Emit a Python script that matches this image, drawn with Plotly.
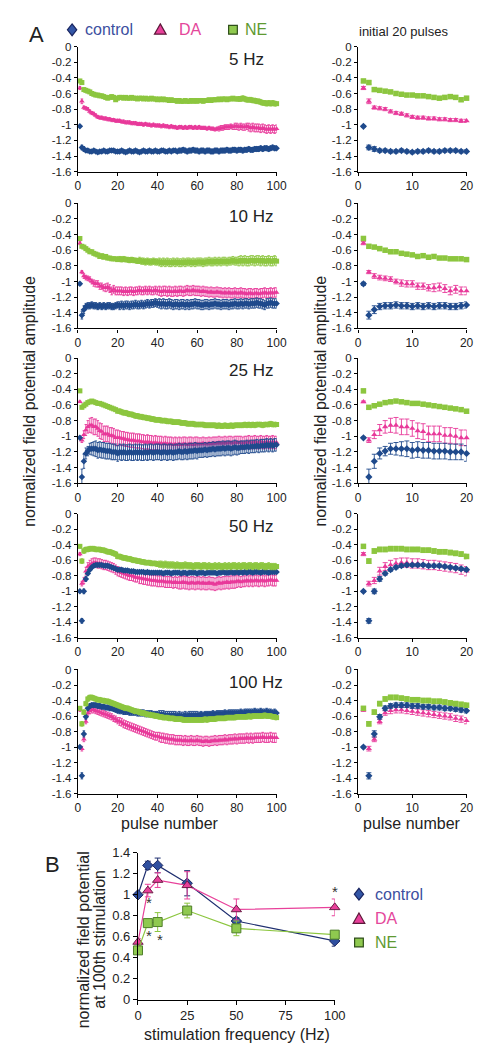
import plotly.graph_objects as go

# ---------------- DATA ----------------
pulse_number = list(range(1, 101))
freq_labels = ["5 Hz", "10 Hz", "25 Hz", "50 Hz", "100 Hz"]

ctrl_5 = [-1.02,-1.29,-1.31,-1.33,-1.33,-1.34,-1.34,-1.33,-1.34,-1.35,-1.34,-1.34,-1.33,-1.34,-1.34,-1.33,-1.33,-1.33,-1.34,-1.34,
          -1.34,-1.33,-1.34,-1.35,-1.34,-1.33,-1.34,-1.34,-1.33,-1.34,-1.35,-1.34,-1.33,-1.34,-1.34,-1.33,-1.34,-1.34,-1.33,-1.34,
          -1.34,-1.33,-1.33,-1.34,-1.34,-1.33,-1.34,-1.33,-1.33,-1.34,-1.33,-1.33,-1.32,-1.33,-1.34,-1.33,-1.33,-1.32,-1.33,-1.33,
          -1.34,-1.33,-1.33,-1.34,-1.33,-1.33,-1.34,-1.34,-1.33,-1.33,-1.34,-1.33,-1.33,-1.33,-1.32,-1.33,-1.33,-1.32,-1.32,-1.33,
          -1.32,-1.32,-1.33,-1.32,-1.32,-1.31,-1.32,-1.32,-1.31,-1.31,-1.31,-1.30,-1.31,-1.30,-1.30,-1.31,-1.30,-1.29,-1.30,-1.30]
err_ctrl_5 = [0.01,0.03,0.03,0.02,0.02,0.02,0.02,0.02,0.02,0.02,0.02,0.02,0.02,0.02,0.02,0.02,0.02,0.02,0.02,0.02,
              0.02,0.02,0.02,0.02,0.02,0.02,0.02,0.02,0.02,0.02,0.02,0.02,0.02,0.02,0.02,0.02,0.02,0.02,0.02,0.02,
              0.02,0.02,0.02,0.02,0.02,0.02,0.02,0.02,0.02,0.02,0.03,0.03,0.03,0.03,0.03,0.03,0.03,0.03,0.03,0.03,
              0.03,0.03,0.03,0.03,0.03,0.03,0.03,0.03,0.03,0.03,0.03,0.03,0.03,0.03,0.03,0.03,0.03,0.03,0.03,0.03,
              0.03,0.03,0.03,0.03,0.03,0.03,0.03,0.03,0.03,0.03,0.03,0.03,0.03,0.03,0.03,0.03,0.03,0.03,0.03,0.03]
da_5 = [-0.53,-0.70,-0.78,-0.79,-0.80,-0.83,-0.85,-0.86,-0.88,-0.90,-0.91,-0.91,-0.92,-0.92,-0.93,-0.93,-0.94,-0.94,-0.95,-0.95,
        -0.95,-0.96,-0.96,-0.97,-0.97,-0.97,-0.98,-0.98,-0.98,-0.99,-0.99,-0.99,-1.00,-0.99,-1.00,-1.00,-1.01,-1.00,-1.01,-1.01,
        -1.01,-1.02,-1.01,-1.02,-1.02,-1.03,-1.02,-1.03,-1.03,-1.04,-1.03,-1.03,-1.04,-1.03,-1.04,-1.03,-1.03,-1.04,-1.03,-1.04,
        -1.03,-1.04,-1.04,-1.04,-1.05,-1.04,-1.05,-1.05,-1.06,-1.05,-1.05,-1.04,-1.04,-1.03,-1.03,-1.03,-1.02,-1.03,-1.02,-1.02,
        -1.03,-1.02,-1.03,-1.03,-1.02,-1.03,-1.04,-1.03,-1.04,-1.04,-1.04,-1.05,-1.04,-1.05,-1.06,-1.05,-1.06,-1.05,-1.06,-1.05]
err_da_5 = [0.02,0.03,0.02,0.02,0.02,0.02,0.02,0.02,0.02,0.02,0.02,0.02,0.02,0.02,0.02,0.02,0.02,0.02,0.02,0.02,
            0.02,0.02,0.02,0.02,0.02,0.02,0.02,0.02,0.02,0.02,0.02,0.02,0.02,0.02,0.02,0.02,0.02,0.02,0.02,0.02,
            0.02,0.02,0.02,0.02,0.02,0.02,0.02,0.02,0.02,0.02,0.02,0.02,0.02,0.02,0.02,0.02,0.02,0.02,0.02,0.02,
            0.02,0.02,0.02,0.02,0.02,0.02,0.02,0.02,0.02,0.02,0.03,0.03,0.03,0.03,0.03,0.03,0.03,0.03,0.04,0.04,
            0.04,0.04,0.04,0.04,0.04,0.05,0.05,0.05,0.05,0.05,0.05,0.05,0.05,0.05,0.05,0.05,0.05,0.05,0.05,0.05]
ne_5 = [-0.44,-0.46,-0.55,-0.56,-0.57,-0.58,-0.60,-0.61,-0.62,-0.62,-0.63,-0.63,-0.64,-0.65,-0.66,-0.65,-0.64,-0.65,-0.68,-0.66,
        -0.65,-0.65,-0.66,-0.65,-0.66,-0.66,-0.65,-0.66,-0.66,-0.67,-0.66,-0.66,-0.67,-0.66,-0.67,-0.67,-0.66,-0.67,-0.67,-0.68,
        -0.67,-0.68,-0.67,-0.68,-0.68,-0.69,-0.68,-0.69,-0.69,-0.70,-0.69,-0.70,-0.70,-0.69,-0.70,-0.70,-0.69,-0.70,-0.69,-0.70,
        -0.69,-0.69,-0.70,-0.69,-0.69,-0.68,-0.69,-0.68,-0.68,-0.68,-0.67,-0.68,-0.67,-0.67,-0.68,-0.67,-0.67,-0.66,-0.67,-0.67,
        -0.67,-0.67,-0.66,-0.67,-0.68,-0.68,-0.68,-0.69,-0.69,-0.70,-0.70,-0.71,-0.72,-0.72,-0.73,-0.72,-0.73,-0.72,-0.73,-0.73]
err_ne_5 = [0.02,0.02,0.02,0.02,0.02,0.02,0.02,0.02,0.02,0.02,0.02,0.02,0.02,0.02,0.02,0.02,0.02,0.02,0.02,0.02,
            0.02,0.02,0.02,0.02,0.02,0.02,0.02,0.02,0.02,0.02,0.02,0.02,0.02,0.02,0.02,0.02,0.02,0.02,0.02,0.02,
            0.02,0.02,0.02,0.02,0.02,0.02,0.02,0.02,0.02,0.02,0.02,0.02,0.02,0.02,0.02,0.02,0.02,0.02,0.02,0.02,
            0.02,0.02,0.02,0.02,0.02,0.02,0.02,0.02,0.02,0.02,0.02,0.02,0.02,0.02,0.02,0.02,0.02,0.02,0.02,0.02,
            0.03,0.03,0.03,0.03,0.03,0.03,0.03,0.03,0.03,0.03,0.03,0.03,0.03,0.03,0.03,0.03,0.03,0.03,0.03,0.03]

ctrl_10 = [-1.03,-1.43,-1.36,-1.32,-1.31,-1.31,-1.30,-1.31,-1.31,-1.32,-1.31,-1.32,-1.31,-1.32,-1.31,-1.31,-1.32,-1.32,-1.31,-1.30,
           -1.31,-1.30,-1.31,-1.30,-1.30,-1.31,-1.30,-1.30,-1.29,-1.30,-1.30,-1.29,-1.30,-1.29,-1.28,-1.29,-1.28,-1.28,-1.27,-1.28,
           -1.28,-1.29,-1.28,-1.29,-1.29,-1.28,-1.29,-1.30,-1.29,-1.29,-1.30,-1.29,-1.29,-1.30,-1.29,-1.30,-1.29,-1.29,-1.28,-1.29,
           -1.29,-1.30,-1.30,-1.29,-1.29,-1.30,-1.29,-1.29,-1.28,-1.29,-1.29,-1.30,-1.29,-1.29,-1.29,-1.30,-1.29,-1.29,-1.28,-1.29,
           -1.29,-1.28,-1.29,-1.28,-1.28,-1.29,-1.28,-1.28,-1.28,-1.27,-1.28,-1.28,-1.29,-1.30,-1.28,-1.28,-1.27,-1.28,-1.28,-1.28]
err_ctrl_10 = [0.02,0.05,0.05,0.04,0.04,0.04,0.04,0.04,0.04,0.04,0.04,0.04,0.04,0.04,0.04,0.04,0.04,0.04,0.04,0.04,
               0.05,0.05,0.05,0.05,0.05,0.05,0.05,0.05,0.05,0.05,0.05,0.05,0.05,0.05,0.05,0.05,0.05,0.05,0.05,0.05,
               0.06,0.06,0.06,0.06,0.06,0.06,0.06,0.06,0.06,0.06,0.06,0.06,0.06,0.06,0.06,0.06,0.06,0.06,0.06,0.06,
               0.06,0.06,0.06,0.06,0.06,0.06,0.06,0.06,0.06,0.06,0.06,0.06,0.06,0.06,0.06,0.06,0.06,0.06,0.06,0.06,
               0.06,0.06,0.06,0.06,0.06,0.06,0.06,0.06,0.06,0.06,0.06,0.06,0.06,0.06,0.06,0.06,0.06,0.06,0.06,0.06]
da_10 = [-0.51,-0.88,-0.93,-0.95,-0.96,-0.97,-1.00,-1.02,-1.03,-1.03,-1.06,-1.06,-1.08,-1.08,-1.07,-1.09,-1.12,-1.10,-1.12,-1.12,
         -1.12,-1.12,-1.13,-1.12,-1.13,-1.12,-1.12,-1.13,-1.12,-1.12,-1.11,-1.12,-1.12,-1.11,-1.12,-1.11,-1.12,-1.12,-1.11,-1.12,
         -1.12,-1.13,-1.12,-1.12,-1.13,-1.12,-1.13,-1.13,-1.12,-1.13,-1.12,-1.12,-1.13,-1.12,-1.11,-1.12,-1.12,-1.11,-1.12,-1.12,
         -1.12,-1.13,-1.12,-1.13,-1.13,-1.14,-1.13,-1.14,-1.14,-1.13,-1.14,-1.14,-1.15,-1.14,-1.15,-1.14,-1.15,-1.15,-1.14,-1.15,
         -1.15,-1.14,-1.15,-1.15,-1.16,-1.15,-1.15,-1.16,-1.15,-1.15,-1.16,-1.15,-1.15,-1.14,-1.15,-1.15,-1.14,-1.15,-1.14,-1.14]
err_da_10 = [0.02,0.02,0.03,0.03,0.03,0.03,0.03,0.04,0.04,0.04,0.04,0.04,0.04,0.05,0.05,0.05,0.05,0.05,0.05,0.05,
             0.05,0.05,0.05,0.05,0.05,0.05,0.05,0.05,0.05,0.05,0.05,0.05,0.05,0.05,0.05,0.05,0.05,0.05,0.05,0.05,
             0.06,0.06,0.06,0.06,0.06,0.06,0.06,0.06,0.06,0.06,0.06,0.06,0.06,0.06,0.06,0.06,0.06,0.06,0.06,0.06,
             0.06,0.06,0.06,0.06,0.06,0.06,0.06,0.06,0.06,0.06,0.06,0.06,0.06,0.06,0.06,0.06,0.06,0.06,0.06,0.06,
             0.06,0.06,0.06,0.06,0.06,0.06,0.06,0.06,0.06,0.06,0.06,0.06,0.06,0.06,0.06,0.06,0.06,0.06,0.06,0.06]
ne_10 = [-0.45,-0.55,-0.56,-0.58,-0.60,-0.62,-0.62,-0.64,-0.65,-0.66,-0.68,-0.67,-0.69,-0.68,-0.70,-0.70,-0.71,-0.71,-0.71,-0.72,
         -0.71,-0.72,-0.71,-0.72,-0.72,-0.73,-0.72,-0.73,-0.73,-0.74,-0.73,-0.74,-0.74,-0.75,-0.74,-0.75,-0.75,-0.74,-0.75,-0.75,
         -0.75,-0.76,-0.75,-0.76,-0.75,-0.76,-0.76,-0.75,-0.76,-0.75,-0.76,-0.76,-0.75,-0.76,-0.75,-0.75,-0.76,-0.75,-0.76,-0.75,
         -0.75,-0.75,-0.76,-0.75,-0.75,-0.74,-0.75,-0.75,-0.74,-0.75,-0.74,-0.75,-0.74,-0.74,-0.75,-0.74,-0.74,-0.73,-0.74,-0.74,
         -0.74,-0.73,-0.74,-0.73,-0.74,-0.74,-0.73,-0.73,-0.74,-0.73,-0.73,-0.74,-0.73,-0.74,-0.74,-0.73,-0.74,-0.74,-0.73,-0.74]
err_ne_10 = [0.02,0.02,0.02,0.02,0.02,0.02,0.02,0.02,0.02,0.02,0.02,0.02,0.02,0.02,0.02,0.02,0.02,0.02,0.02,0.02,
             0.03,0.03,0.03,0.03,0.03,0.03,0.03,0.03,0.03,0.03,0.04,0.04,0.04,0.04,0.04,0.04,0.04,0.04,0.04,0.04,
             0.05,0.05,0.05,0.05,0.05,0.05,0.05,0.05,0.05,0.05,0.05,0.05,0.05,0.05,0.05,0.05,0.05,0.05,0.05,0.05,
             0.05,0.05,0.05,0.05,0.05,0.05,0.05,0.05,0.05,0.05,0.05,0.05,0.05,0.05,0.05,0.05,0.05,0.05,0.05,0.05,
             0.06,0.06,0.06,0.06,0.06,0.06,0.06,0.06,0.06,0.06,0.06,0.06,0.06,0.06,0.06,0.06,0.06,0.06,0.06,0.06]

ctrl_25 = [-1.02,-1.52,-1.32,-1.22,-1.19,-1.16,-1.16,-1.16,-1.16,-1.18,-1.17,-1.18,-1.18,-1.19,-1.19,-1.19,-1.20,-1.20,-1.20,-1.22,
           -1.20,-1.21,-1.20,-1.21,-1.21,-1.20,-1.21,-1.21,-1.20,-1.21,-1.20,-1.21,-1.21,-1.20,-1.21,-1.20,-1.20,-1.21,-1.20,-1.20,
           -1.20,-1.21,-1.20,-1.20,-1.21,-1.20,-1.20,-1.21,-1.20,-1.20,-1.19,-1.20,-1.20,-1.19,-1.20,-1.19,-1.19,-1.19,-1.18,-1.19,
           -1.18,-1.18,-1.18,-1.17,-1.18,-1.17,-1.17,-1.16,-1.17,-1.16,-1.16,-1.16,-1.15,-1.16,-1.15,-1.15,-1.16,-1.15,-1.14,-1.15,
           -1.15,-1.14,-1.14,-1.14,-1.13,-1.14,-1.13,-1.13,-1.13,-1.12,-1.13,-1.12,-1.12,-1.12,-1.11,-1.12,-1.11,-1.12,-1.11,-1.11]
err_ctrl_25 = [0.01,0.10,0.09,0.07,0.06,0.07,0.08,0.09,0.10,0.10,0.10,0.10,0.10,0.10,0.10,0.10,0.10,0.10,0.10,0.10,
               0.10,0.10,0.10,0.10,0.10,0.10,0.10,0.10,0.10,0.10,0.10,0.10,0.10,0.10,0.10,0.10,0.10,0.10,0.10,0.10,
               0.10,0.10,0.10,0.10,0.10,0.10,0.10,0.10,0.10,0.10,0.10,0.10,0.10,0.10,0.10,0.10,0.10,0.10,0.10,0.10,
               0.09,0.09,0.09,0.09,0.09,0.09,0.09,0.09,0.09,0.09,0.09,0.09,0.09,0.09,0.09,0.09,0.09,0.09,0.09,0.09,
               0.08,0.08,0.08,0.08,0.08,0.08,0.08,0.08,0.08,0.08,0.08,0.08,0.08,0.08,0.08,0.08,0.08,0.08,0.08,0.08]
da_25 = [-0.56,-1.05,-0.98,-0.92,-0.88,-0.86,-0.86,-0.88,-0.88,-0.90,-0.93,-0.94,-0.97,-0.97,-0.97,-0.99,-0.99,-1.00,-1.02,-1.02,
         -1.02,-1.03,-1.03,-1.04,-1.04,-1.05,-1.05,-1.05,-1.06,-1.06,-1.06,-1.07,-1.07,-1.08,-1.07,-1.08,-1.08,-1.09,-1.08,-1.09,
         -1.09,-1.09,-1.10,-1.09,-1.10,-1.10,-1.10,-1.11,-1.10,-1.11,-1.10,-1.11,-1.10,-1.10,-1.11,-1.10,-1.10,-1.11,-1.10,-1.10,
         -1.10,-1.10,-1.09,-1.10,-1.10,-1.09,-1.10,-1.09,-1.09,-1.09,-1.08,-1.09,-1.09,-1.08,-1.09,-1.08,-1.08,-1.09,-1.08,-1.08,
         -1.08,-1.08,-1.09,-1.08,-1.08,-1.07,-1.08,-1.08,-1.07,-1.08,-1.08,-1.07,-1.08,-1.08,-1.07,-1.08,-1.08,-1.07,-1.08,-1.08]
err_da_25 = [0.01,0.03,0.05,0.07,0.08,0.09,0.10,0.10,0.10,0.10,0.10,0.10,0.10,0.10,0.10,0.10,0.10,0.10,0.10,0.10,
             0.09,0.09,0.09,0.09,0.09,0.09,0.09,0.09,0.09,0.09,0.09,0.09,0.09,0.09,0.09,0.09,0.09,0.09,0.09,0.09,
             0.09,0.09,0.09,0.09,0.09,0.09,0.09,0.09,0.09,0.09,0.09,0.09,0.09,0.09,0.09,0.09,0.09,0.09,0.09,0.09,
             0.08,0.08,0.08,0.08,0.08,0.08,0.08,0.08,0.08,0.08,0.08,0.08,0.08,0.08,0.08,0.08,0.08,0.08,0.08,0.08,
             0.08,0.08,0.08,0.08,0.08,0.08,0.08,0.08,0.08,0.08,0.08,0.08,0.08,0.08,0.08,0.08,0.08,0.08,0.08,0.08]
ne_25 = [-0.42,-0.63,-0.61,-0.59,-0.57,-0.56,-0.55,-0.56,-0.57,-0.58,-0.58,-0.59,-0.60,-0.61,-0.62,-0.63,-0.64,-0.65,-0.66,-0.68,
         -0.68,-0.69,-0.70,-0.70,-0.71,-0.72,-0.72,-0.73,-0.74,-0.74,-0.75,-0.75,-0.76,-0.76,-0.77,-0.77,-0.78,-0.78,-0.79,-0.79,
         -0.79,-0.80,-0.80,-0.80,-0.81,-0.81,-0.81,-0.82,-0.82,-0.82,-0.82,-0.83,-0.83,-0.83,-0.84,-0.84,-0.84,-0.84,-0.85,-0.85,
         -0.85,-0.85,-0.85,-0.86,-0.86,-0.86,-0.86,-0.86,-0.86,-0.87,-0.86,-0.87,-0.87,-0.86,-0.87,-0.87,-0.86,-0.87,-0.86,-0.86,
         -0.86,-0.86,-0.86,-0.85,-0.86,-0.85,-0.86,-0.85,-0.86,-0.85,-0.85,-0.85,-0.86,-0.85,-0.85,-0.85,-0.84,-0.85,-0.85,-0.85]
err_ne_25 = [0.02,0.02,0.02,0.02,0.02,0.02,0.02,0.02,0.02,0.02,0.02,0.02,0.02,0.02,0.02,0.02,0.02,0.02,0.02,0.02,
             0.03,0.03,0.03,0.03,0.03,0.03,0.03,0.03,0.03,0.03,0.03,0.03,0.03,0.03,0.03,0.03,0.03,0.03,0.03,0.03,
             0.03,0.03,0.03,0.03,0.03,0.03,0.03,0.03,0.03,0.03,0.03,0.03,0.03,0.03,0.03,0.03,0.03,0.03,0.03,0.03,
             0.03,0.03,0.03,0.03,0.03,0.03,0.03,0.03,0.03,0.03,0.03,0.03,0.03,0.03,0.03,0.03,0.03,0.03,0.03,0.03,
             0.03,0.03,0.03,0.03,0.03,0.03,0.03,0.03,0.03,0.03,0.03,0.03,0.03,0.03,0.03,0.03,0.03,0.03,0.03,0.03]

ctrl_50 = [-1.00,-1.38,-1.00,-0.84,-0.77,-0.72,-0.69,-0.67,-0.66,-0.66,-0.66,-0.66,-0.67,-0.67,-0.67,-0.68,-0.69,-0.70,-0.71,-0.72,
           -0.72,-0.72,-0.73,-0.73,-0.73,-0.74,-0.74,-0.74,-0.75,-0.75,-0.75,-0.75,-0.75,-0.76,-0.75,-0.76,-0.76,-0.76,-0.76,-0.76,
           -0.76,-0.76,-0.77,-0.76,-0.76,-0.76,-0.77,-0.76,-0.76,-0.76,-0.76,-0.77,-0.76,-0.76,-0.77,-0.76,-0.76,-0.76,-0.76,-0.77,
           -0.76,-0.76,-0.76,-0.77,-0.76,-0.76,-0.76,-0.76,-0.76,-0.77,-0.76,-0.76,-0.75,-0.76,-0.76,-0.76,-0.75,-0.76,-0.76,-0.75,
           -0.76,-0.75,-0.76,-0.75,-0.76,-0.75,-0.75,-0.76,-0.75,-0.75,-0.75,-0.76,-0.75,-0.75,-0.75,-0.76,-0.75,-0.75,-0.75,-0.75]
err_ctrl_50 = [0.01,0.03,0.03,0.03,0.02,0.02,0.02,0.02,0.02,0.02,0.02,0.02,0.02,0.02,0.02,0.02,0.02,0.02,0.02,0.02,
               0.02,0.02,0.02,0.02,0.02,0.02,0.02,0.02,0.02,0.02,0.02,0.02,0.02,0.02,0.02,0.02,0.02,0.02,0.02,0.02,
               0.02,0.02,0.02,0.02,0.02,0.02,0.02,0.02,0.02,0.02,0.02,0.02,0.02,0.02,0.02,0.02,0.02,0.02,0.02,0.02,
               0.02,0.02,0.02,0.02,0.02,0.02,0.02,0.02,0.02,0.02,0.02,0.02,0.02,0.02,0.02,0.02,0.02,0.02,0.02,0.02,
               0.02,0.02,0.02,0.02,0.02,0.02,0.02,0.02,0.02,0.02,0.02,0.02,0.02,0.02,0.02,0.02,0.02,0.02,0.02,0.02]
da_50 = [-0.52,-0.90,-0.86,-0.74,-0.68,-0.66,-0.64,-0.63,-0.63,-0.64,-0.64,-0.65,-0.66,-0.66,-0.67,-0.68,-0.69,-0.70,-0.72,-0.74,
         -0.75,-0.76,-0.77,-0.78,-0.79,-0.80,-0.80,-0.81,-0.82,-0.82,-0.83,-0.83,-0.84,-0.84,-0.85,-0.85,-0.86,-0.86,-0.86,-0.87,
         -0.87,-0.87,-0.87,-0.88,-0.88,-0.88,-0.88,-0.89,-0.88,-0.89,-0.89,-0.89,-0.88,-0.89,-0.89,-0.90,-0.89,-0.89,-0.90,-0.89,
         -0.89,-0.90,-0.89,-0.90,-0.90,-0.89,-0.90,-0.90,-0.91,-0.90,-0.89,-0.90,-0.89,-0.89,-0.88,-0.89,-0.88,-0.88,-0.88,-0.87,
         -0.87,-0.88,-0.87,-0.87,-0.86,-0.87,-0.86,-0.87,-0.86,-0.86,-0.87,-0.86,-0.86,-0.87,-0.86,-0.86,-0.85,-0.86,-0.86,-0.86]
err_da_50 = [0.02,0.03,0.04,0.05,0.05,0.06,0.06,0.06,0.06,0.06,0.06,0.06,0.06,0.06,0.06,0.06,0.06,0.06,0.06,0.06,
             0.06,0.06,0.06,0.06,0.06,0.06,0.06,0.06,0.06,0.06,0.07,0.07,0.07,0.07,0.07,0.07,0.07,0.07,0.07,0.07,
             0.07,0.07,0.07,0.07,0.07,0.07,0.07,0.07,0.07,0.07,0.08,0.08,0.08,0.08,0.08,0.08,0.08,0.08,0.08,0.08,
             0.08,0.08,0.08,0.08,0.08,0.08,0.08,0.08,0.08,0.08,0.08,0.08,0.08,0.08,0.08,0.08,0.08,0.08,0.08,0.08,
             0.07,0.07,0.07,0.07,0.07,0.07,0.07,0.07,0.07,0.07,0.07,0.07,0.07,0.07,0.07,0.07,0.07,0.07,0.07,0.07]
ne_50 = [-0.42,-0.61,-0.48,-0.46,-0.46,-0.45,-0.45,-0.45,-0.46,-0.46,-0.46,-0.47,-0.47,-0.48,-0.49,-0.49,-0.50,-0.51,-0.52,-0.55,
         -0.55,-0.56,-0.57,-0.57,-0.58,-0.58,-0.59,-0.60,-0.60,-0.61,-0.61,-0.62,-0.62,-0.63,-0.63,-0.63,-0.64,-0.64,-0.64,-0.65,
         -0.65,-0.65,-0.66,-0.65,-0.66,-0.66,-0.66,-0.66,-0.67,-0.66,-0.67,-0.67,-0.67,-0.66,-0.67,-0.67,-0.67,-0.68,-0.67,-0.67,
         -0.67,-0.68,-0.67,-0.67,-0.68,-0.67,-0.68,-0.68,-0.67,-0.68,-0.67,-0.68,-0.68,-0.67,-0.68,-0.67,-0.68,-0.67,-0.67,-0.68,
         -0.67,-0.68,-0.67,-0.67,-0.68,-0.67,-0.67,-0.68,-0.67,-0.67,-0.68,-0.67,-0.67,-0.68,-0.68,-0.67,-0.68,-0.68,-0.68,-0.68]
err_ne_50 = [0.02,0.03,0.03,0.03,0.03,0.03,0.03,0.03,0.03,0.03,0.03,0.03,0.03,0.03,0.03,0.03,0.03,0.03,0.03,0.03,
             0.03,0.03,0.03,0.03,0.03,0.03,0.03,0.03,0.03,0.03,0.03,0.03,0.03,0.03,0.03,0.03,0.03,0.03,0.03,0.03,
             0.04,0.04,0.04,0.04,0.04,0.04,0.04,0.04,0.04,0.04,0.04,0.04,0.04,0.04,0.04,0.04,0.04,0.04,0.04,0.04,
             0.04,0.04,0.04,0.04,0.04,0.04,0.04,0.04,0.04,0.04,0.04,0.04,0.04,0.04,0.04,0.04,0.04,0.04,0.04,0.04,
             0.04,0.04,0.04,0.04,0.04,0.04,0.04,0.04,0.04,0.04,0.04,0.04,0.04,0.04,0.04,0.04,0.04,0.04,0.04,0.04]

ctrl_100 = [-1.00,-1.37,-0.83,-0.61,-0.50,-0.47,-0.46,-0.46,-0.46,-0.47,-0.47,-0.48,-0.48,-0.49,-0.49,-0.50,-0.50,-0.51,-0.52,-0.53,
            -0.53,-0.53,-0.54,-0.54,-0.54,-0.55,-0.55,-0.55,-0.55,-0.56,-0.56,-0.56,-0.56,-0.57,-0.57,-0.57,-0.57,-0.58,-0.58,-0.58,
            -0.58,-0.58,-0.58,-0.59,-0.59,-0.59,-0.59,-0.59,-0.59,-0.60,-0.59,-0.60,-0.60,-0.59,-0.60,-0.59,-0.59,-0.59,-0.59,-0.59,
            -0.59,-0.58,-0.59,-0.58,-0.58,-0.58,-0.58,-0.57,-0.58,-0.57,-0.57,-0.57,-0.57,-0.56,-0.57,-0.56,-0.56,-0.56,-0.56,-0.56,
            -0.56,-0.55,-0.56,-0.55,-0.55,-0.55,-0.55,-0.55,-0.54,-0.55,-0.55,-0.54,-0.55,-0.55,-0.54,-0.55,-0.55,-0.56,-0.55,-0.56]
err_ctrl_100 = [0.01,0.04,0.04,0.03,0.03,0.03,0.03,0.03,0.03,0.03,0.03,0.03,0.03,0.03,0.03,0.03,0.03,0.03,0.03,0.03,
                0.04,0.04,0.04,0.04,0.04,0.04,0.04,0.04,0.04,0.04,0.04,0.04,0.04,0.04,0.04,0.04,0.04,0.04,0.04,0.04,
                0.05,0.05,0.05,0.05,0.05,0.05,0.05,0.05,0.05,0.05,0.05,0.05,0.05,0.05,0.05,0.05,0.05,0.05,0.05,0.05,
                0.04,0.04,0.04,0.04,0.04,0.04,0.04,0.04,0.04,0.04,0.04,0.04,0.04,0.04,0.04,0.04,0.04,0.04,0.04,0.04,
                0.04,0.04,0.04,0.04,0.04,0.04,0.04,0.04,0.04,0.04,0.04,0.04,0.04,0.04,0.04,0.04,0.04,0.04,0.04,0.04]
da_100 = [-0.52,-1.02,-0.90,-0.67,-0.56,-0.53,-0.52,-0.52,-0.53,-0.54,-0.55,-0.56,-0.57,-0.58,-0.59,-0.60,-0.61,-0.63,-0.64,-0.66,
          -0.67,-0.68,-0.70,-0.71,-0.72,-0.73,-0.74,-0.75,-0.76,-0.77,-0.78,-0.79,-0.80,-0.81,-0.82,-0.83,-0.84,-0.85,-0.86,-0.86,
          -0.87,-0.88,-0.88,-0.89,-0.89,-0.90,-0.90,-0.90,-0.91,-0.91,-0.91,-0.91,-0.92,-0.91,-0.92,-0.92,-0.91,-0.92,-0.92,-0.91,
          -0.92,-0.92,-0.93,-0.92,-0.92,-0.93,-0.92,-0.92,-0.91,-0.92,-0.91,-0.91,-0.91,-0.90,-0.91,-0.90,-0.90,-0.90,-0.89,-0.90,
          -0.89,-0.89,-0.89,-0.89,-0.88,-0.89,-0.88,-0.89,-0.88,-0.88,-0.88,-0.88,-0.87,-0.88,-0.88,-0.88,-0.87,-0.88,-0.88,-0.88]
err_da_100 = [0.02,0.03,0.03,0.03,0.03,0.04,0.04,0.04,0.04,0.04,0.04,0.04,0.04,0.04,0.04,0.04,0.04,0.04,0.04,0.04,
              0.05,0.05,0.05,0.05,0.05,0.05,0.05,0.05,0.05,0.05,0.05,0.05,0.05,0.05,0.05,0.05,0.05,0.05,0.05,0.05,
              0.06,0.06,0.06,0.06,0.06,0.06,0.06,0.06,0.06,0.06,0.06,0.06,0.06,0.06,0.06,0.06,0.06,0.06,0.06,0.06,
              0.06,0.06,0.06,0.06,0.06,0.06,0.06,0.06,0.06,0.06,0.06,0.06,0.06,0.06,0.06,0.06,0.06,0.06,0.06,0.06,
              0.06,0.06,0.06,0.06,0.06,0.06,0.06,0.06,0.06,0.06,0.06,0.06,0.06,0.06,0.06,0.06,0.06,0.06,0.06,0.06]
ne_100 = [-0.50,-0.70,-0.55,-0.44,-0.38,-0.36,-0.36,-0.37,-0.38,-0.39,-0.39,-0.40,-0.40,-0.41,-0.41,-0.42,-0.43,-0.44,-0.45,-0.46,
          -0.47,-0.48,-0.49,-0.50,-0.50,-0.51,-0.52,-0.53,-0.54,-0.54,-0.55,-0.56,-0.56,-0.57,-0.58,-0.58,-0.59,-0.59,-0.60,-0.60,
          -0.61,-0.61,-0.62,-0.62,-0.62,-0.63,-0.63,-0.63,-0.64,-0.64,-0.64,-0.64,-0.65,-0.65,-0.65,-0.65,-0.65,-0.65,-0.65,-0.65,
          -0.65,-0.65,-0.65,-0.64,-0.65,-0.64,-0.64,-0.64,-0.64,-0.63,-0.63,-0.63,-0.63,-0.63,-0.62,-0.62,-0.62,-0.62,-0.62,-0.61,
          -0.61,-0.61,-0.61,-0.61,-0.61,-0.60,-0.61,-0.60,-0.60,-0.60,-0.60,-0.60,-0.60,-0.59,-0.60,-0.60,-0.60,-0.61,-0.61,-0.62]
err_ne_100 = [0.02,0.03,0.03,0.03,0.03,0.03,0.03,0.03,0.03,0.03,0.03,0.03,0.03,0.03,0.03,0.03,0.03,0.03,0.03,0.03,
              0.03,0.03,0.03,0.03,0.03,0.03,0.03,0.03,0.03,0.03,0.03,0.03,0.03,0.03,0.03,0.03,0.03,0.03,0.03,0.03,
              0.03,0.03,0.03,0.03,0.03,0.03,0.03,0.03,0.03,0.03,0.03,0.03,0.03,0.03,0.03,0.03,0.03,0.03,0.03,0.03,
              0.03,0.03,0.03,0.03,0.03,0.03,0.03,0.03,0.03,0.03,0.03,0.03,0.03,0.03,0.03,0.03,0.03,0.03,0.03,0.03,
              0.03,0.03,0.03,0.03,0.03,0.03,0.03,0.03,0.03,0.03,0.03,0.03,0.03,0.03,0.03,0.03,0.03,0.03,0.03,0.03]

# Panel B
stim_freq = [0, 5, 10, 25, 50, 100]
ctrl_b = [1.00, 1.28, 1.28, 1.11, 0.75, 0.56]
err_ctrl_b = [0.0, 0.04, 0.07, 0.12, 0.03, 0.05]
da_b = [0.55, 1.04, 1.14, 1.09, 0.86, 0.88]
err_da_b = [0.03, 0.06, 0.07, 0.13, 0.10, 0.08]
ne_b = [0.47, 0.73, 0.74, 0.85, 0.68, 0.62]
err_ne_b = [0.03, 0.04, 0.09, 0.07, 0.07, 0.03]

y_ticks_a = [0, -0.2, -0.4, -0.6, -0.8, -1, -1.2, -1.4, -1.6]
y_ticktext_a = ["0", "-0.2", "-0.4", "-0.6", "-0.8", "-1", "-1.2", "-1.4", "-1.6"]

# ---------------- LAYOUT HELPERS ----------------
W, H = 487, 1047
def fx(p): return p / W
def fy(p): return 1 - p / H

FONT = "Liberation Sans, Arial, sans-serif"
C_CTRL, C_DA, C_NE = "#1f4a8c", "#e8399a", "#8cc63f"

ctrl_all = [ctrl_5, ctrl_10, ctrl_25, ctrl_50, ctrl_100]
da_all = [da_5, da_10, da_25, da_50, da_100]
ne_all = [ne_5, ne_10, ne_25, ne_50, ne_100]
ectrl_all = [err_ctrl_5, err_ctrl_10, err_ctrl_25, err_ctrl_50, err_ctrl_100]
eda_all = [err_da_5, err_da_10, err_da_25, err_da_50, err_da_100]
ene_all = [err_ne_5, err_ne_10, err_ne_25, err_ne_50, err_ne_100]

rows_px = [(32, 159), (191, 318), (348, 475), (506, 632), (664, 790)]
cols_px = [(68, 273), (357, 469)]

fig = go.Figure()
layout = dict(width=W, height=H, margin=dict(l=0, r=0, t=0, b=0),
              paper_bgcolor="white", plot_bgcolor="white", showlegend=False,
              font=dict(family=FONT, color="#222"))
annotations = []
shapes = []

def axkey(k, a):
    return f"{a}axis" if k == 1 else f"{a}axis{k}"
def axref(k, a):
    return a if k == 1 else f"{a}{k}"

for i in range(5):
    for j in range(2):
        k = i * 2 + j + 1
        n = 100 if j == 0 else 20
        xs = pulse_number[:n]
        ms = 5 if j == 0 else 5.5
        ew = 1.3 if j == 0 else 2.5
        for ys, es, col, sym in [(da_all[i], eda_all[i], C_DA, "triangle-up"),
                                 (ctrl_all[i], ectrl_all[i], C_CTRL, "diamond"),
                                 (ne_all[i], ene_all[i], C_NE, "square")]:
            fig.add_trace(go.Scatter(
                x=xs, y=ys[:n], mode="markers", cliponaxis=False,
                marker=dict(symbol=sym, size=ms, color=col, line=dict(width=0)),
                error_y=dict(type="data", array=es[:n], color=col, thickness=0.9, width=ew),
                xaxis=axref(k, "x"), yaxis=axref(k, "y"), showlegend=False, hoverinfo="skip"))
        x0, x1 = cols_px[j]
        top, bot = rows_px[i]
        layout[axkey(k, "x")] = dict(
            domain=[fx(x0), fx(x1)], range=[0, 100 if j == 0 else 20], anchor=axref(k, "y"),
            showline=True, linecolor="black", linewidth=1.2, ticks="outside", ticklen=3,
            tickcolor="black", tickvals=[0, 20, 40, 60, 80, 100] if j == 0 else [0, 10, 20],
            tickfont=dict(size=12, family=FONT, color="#222"), showgrid=False, zeroline=False)
        layout[axkey(k, "y")] = dict(
            domain=[fy(bot), fy(top)], range=[-1.6, 0], anchor=axref(k, "x"),
            showline=True, linecolor="black", linewidth=1.2, ticks="outside", ticklen=3,
            tickcolor="black", tickvals=y_ticks_a, ticktext=y_ticktext_a,
            tickfont=dict(size=11.5, family=FONT, color="#222"), showgrid=False, zeroline=False)
        if j == 0:
            annotations.append(dict(text=freq_labels[i], x=fx(222), y=fy(top + 13), xref="paper", yref="paper",
                                    xanchor="left", yanchor="middle", showarrow=False,
                                    font=dict(size=17, family=FONT, color="#222")))

# Panel B
for ys, es, fill, edge, lcol, sym, sz in [
        (ctrl_b, err_ctrl_b, "#2f4f9f", "#1a2560", "#1f2f70", "diamond", 8),
        (da_b, err_da_b, "#e8409a", "#6a1d45", "#e8409a", "triangle-up", 9),
        (ne_b, err_ne_b, "#8fc94f", "#4f7f2a", "#8cc63f", "square", 9)]:
    fig.add_trace(go.Scatter(
        x=stim_freq, y=ys, mode="lines+markers", cliponaxis=False,
        line=dict(color=lcol, width=1.2),
        marker=dict(symbol=sym, size=sz, color=fill, line=dict(color=edge, width=1)),
        error_y=dict(type="data", array=es, color=lcol, thickness=1, width=3),
        xaxis="x11", yaxis="y11", showlegend=False, hoverinfo="skip"))
layout["xaxis11"] = dict(domain=[fx(130), fx(333)], range=[0, 100], anchor="y11",
                         showline=True, linecolor="black", linewidth=1.3, ticks="outside", ticklen=4,
                         tickcolor="black", tickvals=[0, 25, 50, 75, 100],
                         tickfont=dict(size=13, family=FONT, color="#222"), showgrid=False, zeroline=False)
layout["yaxis11"] = dict(domain=[fy(999), fy(850)], range=[0, 1.4], anchor="x11",
                         showline=True, linecolor="black", linewidth=1.3, ticks="outside", ticklen=4,
                         tickcolor="black", dtick=0.2,
                         tickfont=dict(size=13, family=FONT, color="#222"), showgrid=False, zeroline=False)

# asterisks in B
for xv, yv in [(5.5, 0.93), (5.5, 0.61), (11, 0.57), (100, 1.03)]:
    annotations.append(dict(text="*", x=xv, y=yv, xref="x11", yref="y11", showarrow=False,
                            font=dict(size=15, family=FONT, color="#333")))

def ann(text, x, y, size, color="#222", xanchor="center", angle=0):
    annotations.append(dict(text=text, x=fx(x), y=fy(y), xref="paper", yref="paper", showarrow=False,
                            xanchor=xanchor, yanchor="middle", textangle=angle,
                            font=dict(size=size, family=FONT, color=color)))

def path(pts):
    return "M " + " L ".join(f"{fx(a):.5f},{fy(b):.5f}" for a, b in pts) + " Z"

def diamond(cx, cy, r):
    return path([(cx, cy - r), (cx + r * 0.8, cy), (cx, cy + r), (cx - r * 0.8, cy)])
def triangle(cx, cy, r):
    return path([(cx, cy - r), (cx + r, cy + r * 0.75), (cx - r, cy + r * 0.75)])
def square(cx, cy, r):
    return path([(cx - r, cy - r), (cx + r, cy - r), (cx + r, cy + r), (cx - r, cy + r)])

def sym_shape(p, fill, edge):
    shapes.append(dict(type="path", path=p, xref="paper", yref="paper",
                       fillcolor=fill, line=dict(color=edge, width=1.2), layer="above"))

T_CTRL, T_DA, T_NE = "#3c4fa0", "#e4479b", "#5f9a32"

# top legend
sym_shape(diamond(62, 15, 6), "#3356a6", "#1a2560")
ann("control", 73, 15, 16, T_CTRL, "left")
sym_shape(triangle(153, 15, 6), "#e8409a", "#5a1838")
ann("DA", 170, 15, 16, T_DA, "left")
sym_shape(square(228, 15, 4.5), "#8fc94f", "#2f4f1a")
ann("NE", 238, 15, 16, T_NE, "left")

ann("A", 25, 20, 22)
ann("initial 20 pulses", 404, 17, 13)
ann("normalized field potential amplitude", 18, 392, 16, angle=-90)
ann("normalized field potential amplitude", 318, 392, 16, angle=-90)
ann("pulse number", 163, 820, 16)
ann("pulse number", 413, 820, 16)

# Panel B texts
ann("B", 42, 862, 22)
ann("normalized field potential", 74, 938, 16, angle=-90)
ann("at 100th stimulation", 90, 938, 16, angle=-90)
ann("stimulation frequency (Hz)", 232, 1034, 16)
sym_shape(diamond(358, 892, 6), "#3356a6", "#1a2560")
ann("control", 372, 892, 16, T_CTRL, "left")
sym_shape(triangle(358, 917, 6), "#e8409a", "#5a1838")
ann("DA", 372, 917, 16, T_DA, "left")
sym_shape(square(358, 941, 4.5), "#8fc94f", "#2f4f1a")
ann("NE", 372, 941, 16, T_NE, "left")

layout["annotations"] = annotations
layout["shapes"] = shapes
fig.update_layout(**layout)
fig.write_html("out.html")
